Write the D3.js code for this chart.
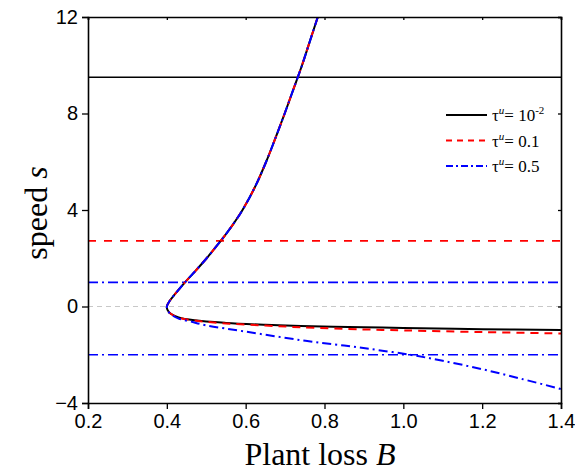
<!DOCTYPE html>
<html>
<head>
<meta charset="utf-8">
<script src="https://cdnjs.cloudflare.com/ajax/libs/d3/7.8.5/d3.min.js"></script>
<style>
  body { margin: 0; background: #fff; }
  svg { display: block; }
</style>
</head>
<body>
<div id="chart"></div>
<script>
// upper branch (shared by all tau values), from top down to the turning point
var upperBranch = [[0.783,12],[0.763,11],[0.743,10],[0.721,9],[0.699,8],[0.676,7],[0.652,6],
  [0.625,5],[0.592,4],[0.572,3.5],[0.550,3],[0.526,2.5],[0.501,2],[0.474,1.5],[0.446,1],
  [0.420,0.5],[0.408,0.25],[0.400,0.0]];

var lowerBlack = [[0.400,0.0],[0.402,-0.15],[0.41,-0.3],[0.43,-0.45],[0.47,-0.57],[0.55,-0.68],
  [0.65,-0.76],[0.74,-0.81],[0.9,-0.86],[1.0,-0.89],[1.2,-0.94],[1.4,-0.97]];
var lowerRed = [[0.400,0.0],[0.402,-0.15],[0.41,-0.3],[0.43,-0.46],[0.47,-0.58],[0.55,-0.7],
  [0.65,-0.79],[0.74,-0.86],[0.9,-0.95],[1.0,-0.99],[1.2,-1.06],[1.4,-1.12]];
var lowerBlue = [[0.400,0.0],[0.402,-0.15],[0.41,-0.32],[0.43,-0.5],[0.46,-0.62],[0.5,-0.78],
  [0.6,-1.04],[0.738,-1.39],[0.85,-1.62],[0.915,-1.76],[1.017,-2.0],[1.1,-2.25],[1.2,-2.6],
  [1.3,-3.0],[1.4,-3.42]];

// horizontal reference levels
var hLines = [
  {s: 9.5, color: "#000", dash: null},
  {s: 2.72, color: "#ff0000", dash: "8,8"},
  {s: 1.0, color: "#0000ff", dash: "10,4,2,4"},
  {s: 0, color: "#c8c8c8", dash: "5,4"},
  {s: -2.0, color: "#0000ff", dash: "10,4,2,4"}
];

var legendLabels = ["10", "0.1", "0.5"];

var xTicks = [0.2, 0.4, 0.6, 0.8, 1.0, 1.2, 1.4];
var yTicks = [-4, 0, 4, 8, 12];

var width = 575, height = 475;
var margin = {top: 17, right: 14, bottom: 72, left: 88};

var svg = d3.select("#chart").append("svg")
  .attr("width", width)
  .attr("height", height);

var x = d3.scaleLinear().domain([0.2, 1.4]).range([margin.left, width - margin.right]);
var y = d3.scaleLinear().domain([-4, 12]).range([height - margin.bottom, margin.top]);

svg.append("defs").append("clipPath").attr("id", "clip")
  .append("rect")
  .attr("x", margin.left).attr("y", margin.top)
  .attr("width", x(1.4) - x(0.2)).attr("height", y(-4) - y(12));

var plot = svg.append("g").attr("clip-path", "url(#clip)");

plot.selectAll(".hline")
  .data(hLines)
  .enter().append("line")
  .attr("x1", x(0.2)).attr("x2", x(1.4))
  .attr("y1", function(d) { return y(d.s); })
  .attr("y2", function(d) { return y(d.s); })
  .attr("stroke", function(d) { return d.color; })
  .attr("stroke-width", function(d) { return d.s == 0 ? 1.2 : 1.6; })
  .attr("stroke-dasharray", function(d) { return d.dash; });

var line = d3.line()
  .x(function(d) { return x(d[0]); })
  .y(function(d) { return y(d[1]); })
  .curve(d3.curveCatmullRom.alpha(0.5));

var series = [
  {pts: lowerBlack, color: "#000", dash: null},
  {pts: lowerRed, color: "#ff0000", dash: "8,6"},
  {pts: lowerBlue, color: "#0000ff", dash: "9,4,2,4"}
];

series.forEach(function(sr) {
  plot.append("path")
    .attr("d", line(upperBranch.concat(sr.pts.slice(1))))
    .attr("fill", "none")
    .attr("stroke", sr.color)
    .attr("stroke-width", 2)
    .attr("stroke-dasharray", sr.dash);
});

// axes
var axisFont = "'Liberation Sans', Arial, sans-serif";

var xAxis = svg.append("g")
  .attr("transform", "translate(0," + y(-4) + ")")
  .call(d3.axisBottom(x).tickValues(xTicks).tickFormat(d3.format(".1f")).tickSizeOuter(0).tickSize(6).tickPadding(5));
var yAxis = svg.append("g")
  .attr("transform", "translate(" + x(0.2) + ",0)")
  .call(d3.axisLeft(y).tickValues(yTicks).tickFormat(d3.format("d")).tickSizeOuter(0).tickSize(6).tickPadding(4));
var topAxis = svg.append("g")
  .attr("transform", "translate(0," + y(12) + ")")
  .call(d3.axisBottom(x).tickValues(xTicks).tickFormat("").tickSizeOuter(0).tickSize(3));
var rightAxis = svg.append("g")
  .attr("transform", "translate(" + x(1.4) + ",0)")
  .call(d3.axisLeft(y).tickValues(yTicks).tickFormat("").tickSizeOuter(0).tickSize(3));

[xAxis, yAxis, topAxis, rightAxis].forEach(function(g) {
  g.select(".domain").attr("stroke", "#000").attr("stroke-width", 1.6);
  g.selectAll(".tick line").attr("stroke", "#000").attr("stroke-width", 1.3);
  g.selectAll(".tick text").attr("fill", "#000")
    .style("font-family", axisFont).style("font-size", "20px");
});

// axis titles
var serif = "'Liberation Serif', 'Times New Roman', serif";

var xt = svg.append("text")
  .attr("x", 320)
  .attr("y", 465)
  .attr("text-anchor", "middle")
  .style("font-family", serif).style("font-size", "32px");
xt.append("tspan").text("Plant loss ");
xt.append("tspan").style("font-style", "italic").text("B");

var yt = svg.append("text")
  .attr("transform", "translate(47," + 213 + ") rotate(-90)")
  .attr("text-anchor", "middle")
  .style("font-family", serif).style("font-size", "32px");
yt.append("tspan").text("speed ");
yt.append("tspan").style("font-style", "italic").text("s");

// legend
var legend = svg.append("g").attr("transform", "translate(446,115)");
series.forEach(function(sr, i) {
  var row = legend.append("g").attr("transform", "translate(0," + i * 25.5 + ")");
  row.append("line")
    .attr("x1", 0).attr("x2", 41)
    .attr("stroke", sr.color)
    .attr("stroke-width", 2)
    .attr("stroke-dasharray", sr.dash ? (i == 1 ? "6,5" : "7,3,2,3") : null);
  var t = row.append("text")
    .attr("x", 46).attr("y", 6)
    .style("font-family", serif).style("font-size", "17px");
  t.append("tspan").text("\u03c4");
  t.append("tspan").attr("dy", -7).style("font-size", "11px").style("font-style", "italic").text("u");
  t.append("tspan").attr("dy", 7).text("= " + legendLabels[i]);
  if (i == 0) {
    t.append("tspan").attr("dy", -7).style("font-size", "11px").text("-2");
  }
});
</script>
</body>
</html>
